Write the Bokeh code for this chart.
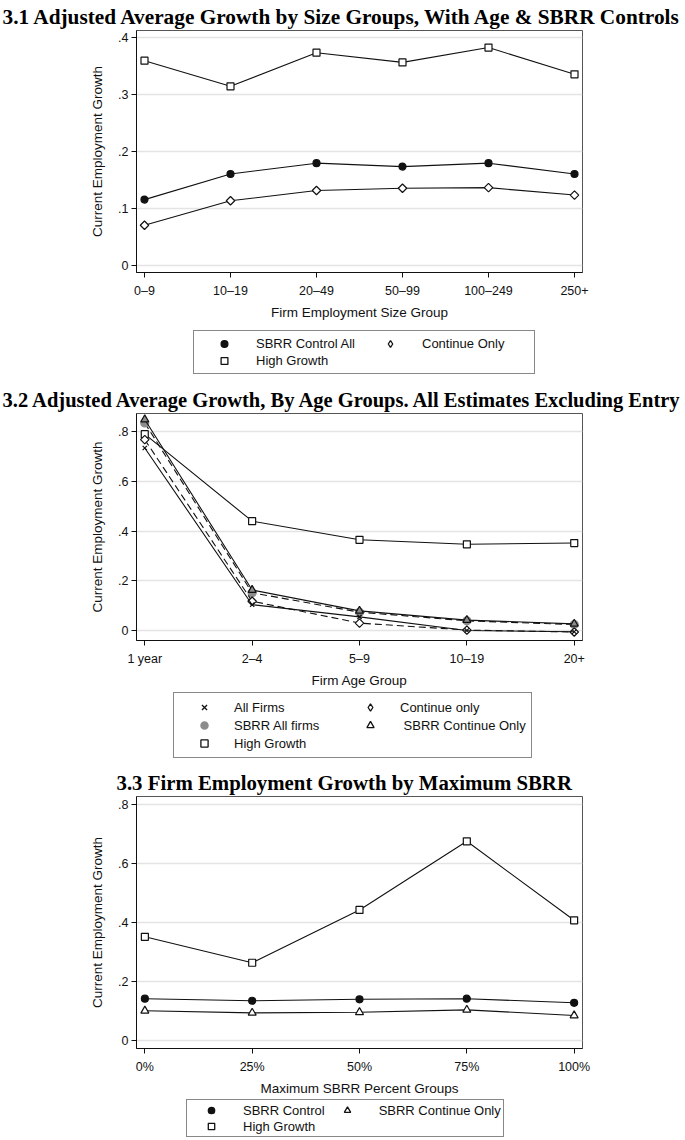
import math
from bokeh.plotting import figure
from bokeh.models import (Range1d, FixedTicker, CustomJSTickFormatter, Legend,
                          LegendItem, ColumnDataSource, Title)
from bokeh.layouts import column
from bokeh.embed import file_html
from bokeh.resources import INLINE

# ---------------- data ----------------
# Panel 3.1
size_groups = ["0–9", "10–19", "20–49", "50–99", "100–249", "250+"]
p1_sbrr_all = [0.116, 0.161, 0.180, 0.174, 0.180, 0.161]
p1_continue = [0.071, 0.114, 0.132, 0.136, 0.137, 0.124]
p1_high = [0.360, 0.315, 0.374, 0.357, 0.383, 0.336]
p1_yticks = [0, 0.1, 0.2, 0.3, 0.4]

# Panel 3.2
age_groups = ["1 year", "2–4", "5–9", "10–19", "20+"]
p2_all = [0.734, 0.104, 0.055, 0.000, -0.005]
p2_continue = [0.768, 0.118, 0.030, 0.002, -0.006]
p2_sbrr_all = [0.835, 0.152, 0.074, 0.039, 0.024]
p2_sbrr_cont = [0.849, 0.163, 0.079, 0.042, 0.027]
p2_high = [0.790, 0.440, 0.365, 0.347, 0.352]
p2_yticks = [0, 0.2, 0.4, 0.6, 0.8]

# Panel 3.3
sbrr_groups = ["0%", "25%", "50%", "75%", "100%"]
p3_control = [0.142, 0.135, 0.140, 0.142, 0.128]
p3_cont = [0.101, 0.094, 0.096, 0.104, 0.085]
p3_high = [0.352, 0.264, 0.443, 0.676, 0.408]
p3_yticks = [0, 0.2, 0.4, 0.6, 0.8]

SANS = "Liberation Sans"
SERIF = "Liberation Serif"
INK = "#111111"
W = 685
FRAME_L = 136
FRAME_R = 582
DIAMOND = ("square", math.pi / 4)

YFMT = CustomJSTickFormatter(code="""
if (Math.abs(tick) < 1e-9) { return '0'; }
return tick.toFixed(1).replace(/^(-?)0\\./, '$1.');
""")


def marker_of(m):
    return m if isinstance(m, tuple) else (m, 0.0)


def make_panel(title, title_off, title_standoff, title_size, cats, series,
               yticks, yr, xr, xlabel, height, b_top, b_bottom):
    p = figure(width=W, height=height, output_backend="svg",
               toolbar_location=None, min_border_left=FRAME_L,
               min_border_right=W - FRAME_R, min_border_top=b_top,
               min_border_bottom=b_bottom,
               x_range=Range1d(*xr), y_range=Range1d(*yr))
    p.background_fill_color = "white"
    p.border_fill_color = "white"
    p.outline_line_color = "#555555"
    p.outline_line_width = 1
    p.xgrid.visible = False
    p.ygrid.grid_line_color = "#e4e4e4"
    p.ygrid.grid_line_width = 1.6
    p.ygrid.ticker = FixedTicker(ticks=yticks)

    xs = list(range(len(cats)))
    p.xaxis.ticker = FixedTicker(ticks=xs)
    p.xaxis.major_label_overrides = {i: c for i, c in enumerate(cats)}
    p.yaxis.ticker = FixedTicker(ticks=yticks)
    p.yaxis.formatter = YFMT
    for ax in (p.xaxis, p.yaxis):
        ax.axis_line_color = INK
        ax.axis_line_width = 1
        ax.major_tick_line_color = INK
        ax.major_tick_out = 5
        ax.major_tick_in = 0
        ax.minor_tick_out = 0
        ax.minor_tick_in = 0
        ax.major_label_text_font = SANS
        ax.major_label_text_font_size = "12.5px"
        ax.major_label_text_color = INK
        ax.axis_label_text_font = SANS
        ax.axis_label_text_font_size = "13.5px"
        ax.axis_label_text_font_style = "normal"
        ax.axis_label_text_color = INK
    p.xaxis.major_label_standoff = 6
    p.yaxis.major_label_standoff = 3
    p.xaxis.axis_label = xlabel
    p.xaxis.axis_label_standoff = 4
    p.yaxis.axis_label = "Current Employment Growth"
    p.yaxis.axis_label_standoff = 10

    p.add_layout(Title(text=title, align="left", offset=title_off,
                       standoff=title_standoff, text_font=SERIF,
                       text_font_style="bold", text_font_size=title_size,
                       text_color="black"), "above")

    sources = {}
    for (label, vals, marker, fill, line_col, size, dash) in series:
        mk, ang = marker_of(marker)
        src = ColumnDataSource(dict(x=xs, y=vals))
        sources[label] = src
        p.line("x", "y", source=src, line_color=INK, line_width=1.1,
               line_dash=dash)
        p.scatter("x", "y", source=src, marker=mk, angle=ang, size=size,
                  fill_color=fill, line_color=line_col, line_width=1.2)
    return p, sources


def make_legend(series, sources, order, height, loc, row_h, pad, gw, lw,
                standoff, label_text=None):
    # a strip below the chart that only carries the legend box
    q = figure(width=W, height=height, output_backend="svg",
               toolbar_location=None, min_border=0,
               min_border_left=FRAME_L, min_border_right=W - FRAME_R,
               x_axis_type=None, y_axis_type=None,
               x_range=Range1d(100, 101), y_range=Range1d(100, 101))
    q.outline_line_color = None
    q.xgrid.visible = False
    q.ygrid.visible = False
    q.background_fill_color = "white"
    q.border_fill_color = "white"
    rends = {}
    for (label, vals, marker, fill, line_col, size, dash) in series:
        # legend swatches do not rotate, so the diamond uses its own marker
        mk = "diamond" if marker == DIAMOND else marker
        rends[label] = q.scatter("x", "y", source=sources[label],
                                 marker=mk, size=size,
                                 fill_color=fill, line_color=line_col,
                                 line_width=1.3)
    label_text = label_text or {}
    leg = Legend(items=[LegendItem(label=label_text.get(l, l),
                                   renderers=[rends[l]]) for l in order],
                 location=(loc[0] - FRAME_L, loc[1]),
                 orientation="vertical", ncols=2,
                 border_line_color=INK, border_line_width=1,
                 background_fill_color="white", background_fill_alpha=1,
                 label_text_font=SANS, label_text_font_size="13px",
                 label_text_color=INK,
                 glyph_width=gw, glyph_height=row_h, label_height=row_h,
                 label_width=lw, label_standoff=standoff, spacing=0,
                 padding=pad, margin=0)
    q.add_layout(leg, "center")
    return q


s1 = [
    ("SBRR Control All", p1_sbrr_all, "circle", INK, INK, 7, "solid"),
    ("Continue Only", p1_continue, DIAMOND, "white", INK, 6, "solid"),
    ("High Growth", p1_high, "square", "white", INK, 7, "solid"),
]
p1, src1 = make_panel("3.1 Adjusted Average Growth by Size Groups, With Age & SBRR Controls",
                      -134, 4, "21.3px", size_groups, s1, p1_yticks,
                      (-0.012, 0.413), (-0.093, 5.093),
                      "Firm Employment Size Group", 322, 28, 40)
l1 = make_legend(s1, src1, ["SBRR Control All", "High Growth", "Continue Only"],
                 62, (193, 10), 17, 4, 52, 108, 6)

s2 = [
    ("SBRR All firms", p2_sbrr_all, "circle", "#8c8c8c", "#8c8c8c", 8, "7 4"),
    ("SBRR Continue Only", p2_sbrr_cont, "triangle", "#8c8c8c", INK, 8, "solid"),
    ("High Growth", p2_high, "square", "white", INK, 7, "solid"),
    ("Continue only", p2_continue, DIAMOND, "white", INK, 6, "7 4"),
    ("All Firms", p2_all, "x", INK, INK, 6, "solid"),
]
p2, src2 = make_panel("3.2 Adjusted Average Growth, By Age Groups. All Estimates Excluding Entry",
                      -134, 5, "20.5px", age_groups, s2, p2_yticks,
                      (-0.040, 0.873), (-0.077, 4.077), "Firm Age Group",
                      306, 29, 42)
s2_leg = [(a, b, c, ("white" if a == "SBRR Continue Only" else d), e, f, g)
          for (a, b, c, d, e, f, g) in s2]
l2 = make_legend(s2_leg, src2, ["All Firms", "SBRR All firms", "High Growth",
                                "Continue only", "SBRR Continue Only"],
                 76, (173, 8), 18, 5, 50, 111, 5,
                 {"SBRR Continue Only": " SBRR Continue Only"})

s3 = [
    ("SBRR Control", p3_control, "circle", INK, INK, 7, "solid"),
    ("SBRR Continue Only", p3_cont, "triangle", "white", INK, 8, "solid"),
    ("High Growth", p3_high, "square", "white", INK, 7, "solid"),
]
p3, src3 = make_panel("3.3  Firm Employment Growth by Maximum SBRR",
                      -20, 5, "20.8px", sbrr_groups, s3, p3_yticks,
                      (-0.027, 0.828), (-0.078, 4.078),
                      "Maximum SBRR Percent Groups", 332, 29, 50)
l3 = make_legend(s3, src3, ["SBRR Control", "High Growth", "SBRR Continue Only"],
                 40, (186, 1), 16, 2, 44, 64, 10)

layout = column(p1, l1, p2, l2, p3, l3, spacing=0)
open("out.html", "w").write(file_html(layout, INLINE))
